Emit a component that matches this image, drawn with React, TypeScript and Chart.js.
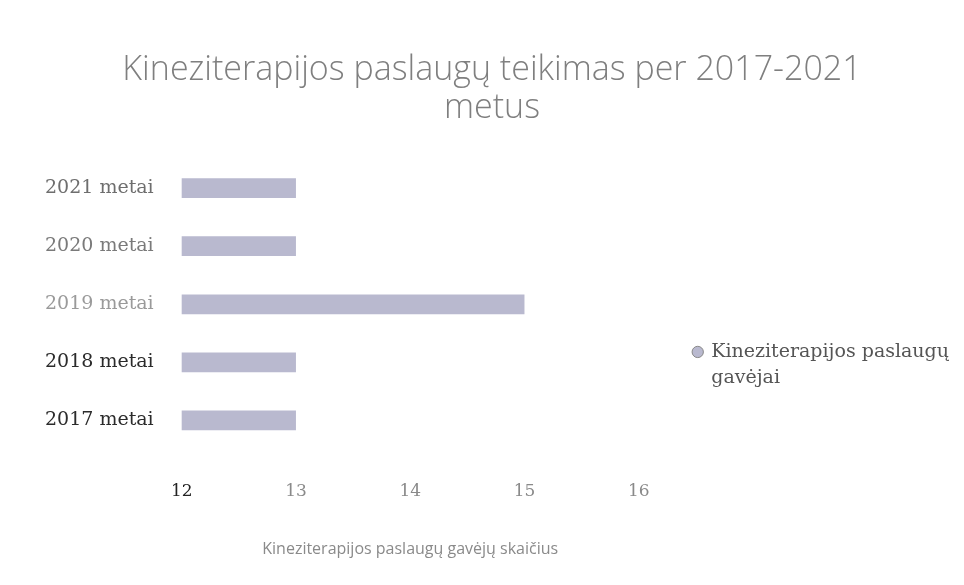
import React, { useEffect, useRef } from "react";
import { Chart, registerables } from "chart.js";

Chart.register(...registerables);

const categories: string[] = ["2017 metai", "2018 metai", "2019 metai", "2020 metai", "2021 metai"];
const recipients: number[] = [13, 13, 15, 13, 13];
const seriesName: string[] = ["Kineziterapijos paslaugų", "gavėjai"];
const titleLines: string[] = ["Kineziterapijos paslaugų teikimas per 2017-2021", "metus"];
const xAxisTitle = "Kineziterapijos paslaugų gavėjų skaičius";
const xMin = 12;
const xMax = 16;

const categoryColors = ["#2b2b2b", "#2b2b2b", "#9a9a9a", "#7a7a7a", "#6e6e6e"];

export default function App() {
  const ref = useRef<HTMLCanvasElement | null>(null);

  useEffect(() => {
    if (!ref.current) return;
    const chart = new Chart(ref.current, {
      type: "bar",
      data: {
        labels: categories,
        datasets: [
          {
            label: seriesName.join(" "),
            data: recipients,
            backgroundColor: "#b9b9cf",
            borderWidth: 0,
            barPercentage: 0.34,
            categoryPercentage: 1,
          },
        ],
      },
      options: {
        indexAxis: "y",
        animation: false,
        responsive: true,
        maintainAspectRatio: false,
        layout: { padding: { left: 25, right: 5, top: 0, bottom: 26 } },
        plugins: {
          title: {
            display: true,
            text: titleLines,
            color: "#7f7f7f",
            font: { family: "'Open Sans', sans-serif", size: 34, weight: "300", lineHeight: 1.12 },
            padding: { top: 51, bottom: 32 },
          },
          legend: {
            display: true,
            position: "right",
            maxWidth: 400,
            title: {
              display: true,
              text: " ",
              font: { size: 1 },
              padding: { top: 176, bottom: 0 },
            },
            labels: {
              usePointStyle: true,
              pointStyle: "circle",
              boxWidth: 8,
              boxHeight: 8,
              padding: 55,
              color: "#555",
              font: { family: "'DejaVu Serif', serif", size: 19, lineHeight: 1.35 },
              generateLabels: (c: any) => {
                const ds = c.data.datasets[0];
                return [
                  {
                    text: seriesName,
                    fillStyle: ds.backgroundColor,
                    strokeStyle: "#888",
                    lineWidth: 1,
                    pointStyle: "circle",
                    datasetIndex: 0,
                    hidden: false,
                    fontColor: "#555",
                  },
                ];
              },
            },
          },
          tooltip: { enabled: false },
        },
        scales: {
          x: {
            type: "linear",
            min: xMin,
            max: xMax,
            grid: { display: false },
            border: { display: false },
            ticks: {
              stepSize: 1,
              padding: 24,
              font: { family: "'DejaVu Serif', serif", size: 17 },
              color: (ctx: any) => (ctx.tick && ctx.tick.value === xMin ? "#222" : "#8a8a8a"),
            },
            title: {
              display: true,
              text: xAxisTitle,
              color: "#8a8a8a",
              font: { family: "'Open Sans', sans-serif", size: 16 },
              padding: { top: 14, bottom: 0 },
            },
          },
          y: {
            reverse: true,
            grid: { display: false },
            border: { display: false },
            ticks: {
              padding: 20,
              font: { family: "'DejaVu Serif', serif", size: 19 },
              color: (ctx: any) => categoryColors[ctx.index] || "#555",
            },
          },
        },
      },
    });
    return () => chart.destroy();
  }, []);

  return (
    <div style={{ position: "absolute", left: 0, top: 0, width: 964, height: 585, background: "#fff" }}>
      <canvas ref={ref} />
    </div>
  );
}
